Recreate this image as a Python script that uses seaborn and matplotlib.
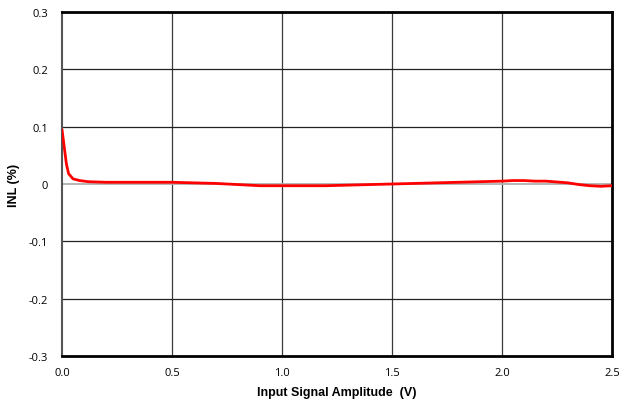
import numpy as np
import pandas as pd
import matplotlib
matplotlib.use("Agg")
import matplotlib.pyplot as plt
import seaborn as sns

amplitude = [0.0, 0.01, 0.02, 0.03, 0.05, 0.08, 0.12, 0.2, 0.3, 0.4, 0.5, 0.6, 0.7, 0.8, 0.9, 1.0,
             1.1, 1.2, 1.3, 1.4, 1.5, 1.6, 1.7, 1.8, 1.9, 2.0, 2.05, 2.1, 2.15, 2.2, 2.3, 2.35, 2.4, 2.45, 2.5]
inl = [0.095, 0.065, 0.035, 0.018, 0.009, 0.006, 0.004, 0.003, 0.003, 0.003, 0.003, 0.002, 0.001, -0.001, -0.003, -0.003,
       -0.003, -0.003, -0.002, -0.001, 0.0, 0.001, 0.002, 0.003, 0.004, 0.005, 0.006, 0.006, 0.005, 0.005, 0.002, -0.001, -0.003, -0.004, -0.003]

xticks = [0.0, 0.5, 1.0, 1.5, 2.0, 2.5]
yticks = [-0.3, -0.2, -0.1, 0, 0.1, 0.2, 0.3]
ytick_labels = ["-0.3", "-0.2", "-0.1", "0", "0.1", "0.2", "0.3"]

df = pd.DataFrame({"amp": amplitude, "inl": inl})

sns.set_style("white")
plt.rcParams['font.family'] = ['Liberation Sans Narrow', 'Liberation Sans', 'DejaVu Sans']
plt.rcParams['text.color'] = 'black'
plt.rcParams['axes.labelcolor'] = 'black'
plt.rcParams['xtick.color'] = 'black'
plt.rcParams['ytick.color'] = 'black'

fig = plt.figure(figsize=(6.31, 4.06), dpi=100)
ax = fig.add_axes([62/631, 49/406, 550/631, 344/406])

ax.set_xlim(0, 2.5)
ax.set_ylim(-0.3, 0.3)
for x in xticks[1:-1]:
    ax.axvline(x, color="#3a3a3a", lw=0.9, zorder=1)
for y in yticks[1:-1]:
    if y == 0:
        ax.axhline(y, color="#b0b0b0", lw=1.3, zorder=1)
    else:
        ax.axhline(y, color="#222222", lw=0.9, zorder=1)

sns.lineplot(data=df, x="amp", y="inl", ax=ax, color="#ff0000", lw=2.0, zorder=3)

ax.set_xticks(xticks)
ax.set_xticklabels([f"{v:.1f}" for v in xticks], fontsize=8, family=['Open Sans', 'DejaVu Sans'])
ax.set_yticks(yticks)
ax.set_yticklabels(ytick_labels, fontsize=8, family=['Open Sans', 'DejaVu Sans'])
ax.tick_params(axis='y', length=4, width=0.8, color="#555555", labelcolor="black", direction='out', pad=6)
ax.tick_params(axis='x', length=0, pad=8, labelcolor="black")

for side in ["top", "right", "bottom"]:
    ax.spines[side].set_color("black")
    ax.spines[side].set_linewidth(2)
ax.spines["left"].set_color("#555555")
ax.spines["left"].set_linewidth(1.5)

ax.set_xlabel("Input Signal Amplitude  (V)", fontsize=9, fontweight="bold", labelpad=6)
ax.set_ylabel("INL (%)", fontsize=9, fontweight="bold", labelpad=6)

fig.savefig("out.png", dpi=100)
